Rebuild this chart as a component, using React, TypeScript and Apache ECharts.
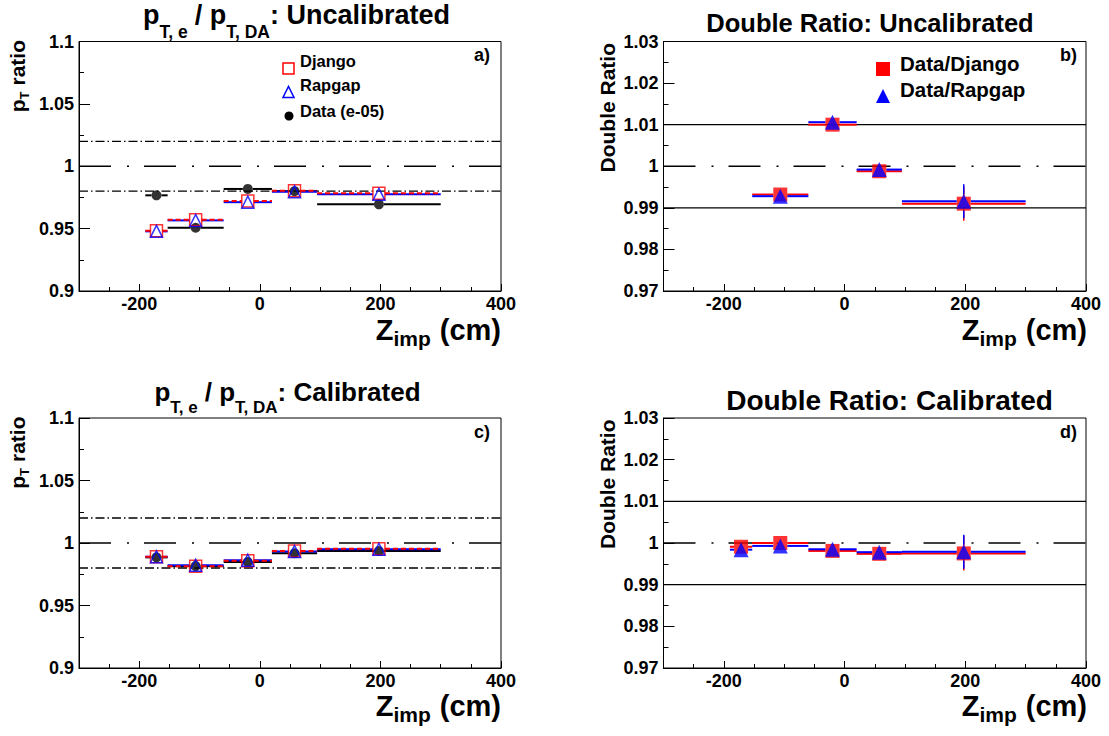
import React, { useEffect, useRef } from 'react';
import * as echarts from 'echarts';

const FONT = '"Liberation Sans", Arial, Helvetica, sans-serif';

// Z_imp bins (cm)
const zCenter = [-171.5, -106.5, -20, 57.5, 197.5];
const zLow = [-190, -153, -60, 20, 95];
const zHigh = [-153, -60, 20, 95, 300];

// a) pT,e / pT,DA : Uncalibrated
const djangoUncal = [0.9483, 0.9572, 0.9722, 0.9803, 0.9783];
const rapgapUncal = [0.9478, 0.9566, 0.9712, 0.9796, 0.9775];
const dataUncal = [0.9767, 0.9507, 0.9818, 0.98, 0.9695];

// c) pT,e / pT,DA : Calibrated
const djangoCal = [0.989, 0.9815, 0.9858, 0.9936, 0.9955];
const rapgapCal = [0.989, 0.9822, 0.9862, 0.9932, 0.995];
const dataCal = [0.9885, 0.9815, 0.9848, 0.9918, 0.9936];

// b) Double ratio : Uncalibrated
const dataDjangoUncal = [null, 0.9932, 1.01, 0.9988, 0.991];
const dataRapgapUncal = [null, 0.9928, 1.0106, 0.9992, 0.9916];
const ratioErrUncal = [0, 0.0004, 0.0004, 0.0004, 0.0041];

// d) Double ratio : Calibrated
const dataDjangoCal = [0.9991, 1.0, 0.9981, 0.9974, 0.9975];
const dataRapgapCal = [0.9984, 0.9993, 0.9985, 0.9978, 0.9979];
const ratioErrCal = [0.0004, 0.0004, 0.0004, 0.0004, 0.0041];

// axes
const zMin = -300;
const zMax = 400;
const zLabelStep = 200;
const pTAxis = { min: 0.9, max: 1.1, step: 0.05 };
const dAxis = { min: 0.97, max: 1.03, step: 0.01 };
const pTBands = [1.02, 0.98];
const dBands = [1.01, 0.99];
const unity = 1;

const RED = '#ff0000';
const BLUE = '#0000ff';

const panels = [
  { left: 79, top: 41.5, width: 422, height: 249.5, ax: pTAxis },
  { left: 663.5, top: 41.5, width: 422.5, height: 249.5, ax: dAxis },
  { left: 79, top: 418, width: 422, height: 250, ax: pTAxis },
  { left: 663.5, top: 418, width: 422.5, height: 250, ax: dAxis },
];

function errSeries(idx: number, vals: (number | null)[], errs: number[] | null, color: string, dash: number[] | null, gap: number, z: number) {
  const data: number[][] = [];
  vals.forEach((v, i) => {
    if (v == null) return;
    data.push([zCenter[i], v, zLow[i], zHigh[i], errs ? errs[i] : 0]);
  });
  return {
    type: 'custom',
    xAxisIndex: idx,
    yAxisIndex: idx,
    silent: true,
    z,
    data,
    encode: { x: 0, y: 1 },
    renderItem: (_params: any, api: any) => {
      const x = api.value(0), y = api.value(1), lo = api.value(2), hi = api.value(3), e = api.value(4);
      const c = api.coord([x, y]);
      const l = api.coord([lo, y]);
      const h = api.coord([hi, y]);
      const style: any = { stroke: color, lineWidth: 2, fill: 'none', lineDash: dash || undefined };
      const children: any[] = [];
      if (c[0] - gap > l[0]) children.push({ type: 'line', shape: { x1: l[0], y1: c[1], x2: c[0] - gap, y2: c[1] }, style });
      if (h[0] > c[0] + gap) children.push({ type: 'line', shape: { x1: c[0] + gap, y1: c[1], x2: h[0], y2: c[1] }, style });
      if (e > 0) {
        const t = api.coord([x, y + e]);
        const b = api.coord([x, y - e]);
        const vs = { stroke: color, lineWidth: 1.5, fill: 'none' };
        if (c[1] - gap > t[1]) children.push({ type: 'line', shape: { x1: c[0], y1: t[1], x2: c[0], y2: c[1] - gap }, style: vs });
        if (b[1] > c[1] + gap) children.push({ type: 'line', shape: { x1: c[0], y1: c[1] + gap, x2: c[0], y2: b[1] }, style: vs });
      }
      return { type: 'group', children };
    },
  };
}

function markerSeries(idx: number, vals: (number | null)[], symbol: string, size: number, itemStyle: any, z: number) {
  const data: number[][] = [];
  vals.forEach((v, i) => {
    if (v != null) data.push([zCenter[i], v]);
  });
  return { type: 'scatter', xAxisIndex: idx, yAxisIndex: idx, symbol, symbolSize: size, itemStyle, z, silent: true, data };
}

function hLine(idx: number, v: number, type: any, width: number) {
  return {
    type: 'line',
    xAxisIndex: idx,
    yAxisIndex: idx,
    data: [[zMin, v], [zMax, v]],
    symbol: 'none',
    silent: true,
    z: 1,
    lineStyle: { color: '#000', width, type },
  };
}

const labelStyle = { color: '#000', fontSize: 18, fontWeight: 'bold', fontFamily: FONT };

function buildOption() {
  const grid: any[] = [];
  const xAxis: any[] = [];
  const yAxis: any[] = [];
  panels.forEach((p, i) => {
    grid.push({ left: p.left, top: p.top, width: p.width, height: p.height, show: true, borderColor: '#000', borderWidth: 1, backgroundColor: 'transparent', containLabel: false, outerBoundsMode: 'none' });
    xAxis.push({
      gridIndex: i, type: 'value', min: zMin, max: zMax, interval: 50,
      axisLine: { show: true, onZero: false, lineStyle: { color: '#000', width: 1 } },
      axisTick: { show: true, inside: true, length: 4, lineStyle: { color: '#000', width: 1 } },
      axisLabel: { ...labelStyle, margin: 4, formatter: (v: number) => (v % zLabelStep === 0 ? String(v) : '') },
      splitLine: { show: false },
    });
    yAxis.push({
      gridIndex: i, type: 'value', min: p.ax.min, max: p.ax.max, interval: p.ax.step,
      axisLine: { show: true, onZero: false, lineStyle: { color: '#000', width: 1 } },
      axisTick: { show: true, inside: true, length: 11, lineStyle: { color: '#000', width: 1 } },
      minorTick: { show: true, splitNumber: 2, length: 5, lineStyle: { color: '#000', width: 1 } },
      axisLabel: { ...labelStyle, margin: 5 },
      splitLine: { show: false },
      minorSplitLine: { show: false },
    });
  });
  // auxiliary grids for the long major ticks every 200 cm
  panels.forEach((p, i) => {
    const pxPer = p.width / (zMax - zMin);
    grid.push({ left: p.left + pxPer * (-zLabelStep - zMin), top: p.top, width: pxPer * (zMax + zLabelStep), height: p.height, show: false, containLabel: false, outerBoundsMode: 'none' });
    xAxis.push({
      gridIndex: 4 + i, type: 'value', min: -zLabelStep, max: zMax, interval: zLabelStep,
      axisLine: { show: false, onZero: false },
      axisTick: { show: true, inside: true, length: 7, lineStyle: { color: '#000', width: 1 } },
      axisLabel: { show: false },
      splitLine: { show: false },
    });
    yAxis.push({ gridIndex: 4 + i, type: 'value', min: 0, max: 1, show: false, splitLine: { show: false } });
  });

  const series: any[] = [];
  const bandDash = [9, 3, 1.5, 3];
  const unityDash = [32, 16, 2, 15];
  // a & c
  [0, 2].forEach((idx) => {
    pTBands.forEach((b) => series.push(hLine(idx, b, bandDash, 1.3)));
    series.push(hLine(idx, unity, unityDash, 1.5));
    const dj = idx === 0 ? djangoUncal : djangoCal;
    const rg = idx === 0 ? rapgapUncal : rapgapCal;
    const dt = idx === 0 ? dataUncal : dataCal;
    series.push(errSeries(idx, dt, null, '#000', null, 5, 2));
    series.push(errSeries(idx, rg, null, BLUE, null, 6, 3));
    series.push(errSeries(idx, dj, null, RED, [5, 3], 6, 4));
    series.push(markerSeries(idx, dt, 'circle', 10, { color: '#000' }, 5));
    series.push(markerSeries(idx, dj, 'rect', 12, { color: 'rgba(0,0,0,0)', borderColor: RED, borderWidth: 1.5 }, 6));
    series.push(markerSeries(idx, rg, 'triangle', 12, { color: 'rgba(0,0,0,0)', borderColor: BLUE, borderWidth: 1.5 }, 7));
  });
  // b & d
  [1, 3].forEach((idx) => {
    dBands.forEach((b) => series.push(hLine(idx, b, 'solid', 1.3)));
    series.push(hLine(idx, unity, unityDash, 1.5));
    const dj = idx === 1 ? dataDjangoUncal : dataDjangoCal;
    const rg = idx === 1 ? dataRapgapUncal : dataRapgapCal;
    const er = idx === 1 ? ratioErrUncal : ratioErrCal;
    series.push(errSeries(idx, dj, er, RED, null, 7, 3));
    series.push(errSeries(idx, rg, er, BLUE, null, 7, 4));
    series.push(markerSeries(idx, dj, 'rect', 14, { color: RED }, 6));
    series.push(markerSeries(idx, rg, 'triangle', 15, { color: BLUE }, 7));
  });

  const mkTitleRich = (fm: number, fs: number, pad: number, gapL: number) => ({
    m: { fontSize: fm, fontWeight: 'bold', fontFamily: FONT, lineHeight: fm + 1, verticalAlign: 'top', color: '#000' },
    g: { fontSize: fm, fontWeight: 'bold', fontFamily: FONT, lineHeight: fm + 1, verticalAlign: 'top', color: '#000', padding: [0, 0, 0, gapL] },
    s: { fontSize: fs, fontWeight: 'bold', fontFamily: FONT, lineHeight: fs, verticalAlign: 'top', color: '#000', padding: [pad, 0, 0, 0] },
  });
  const titleRichA = mkTitleRich(27, 17.5, 21, 7);
  const titleRichC = mkTitleRich(26, 17, 20.5, 7);
  const xTitleRich = mkTitleRich(29, 21, 12.7, 9);
  const yTitleRich = mkTitleRich(21, 13, 11, 6);

  const txt = (x: number, y: number, text: string, size: number, align = 'left', va = 'middle') => ({
    type: 'text', x, y, silent: true,
    style: { text, fill: '#000', font: `bold ${size}px ${FONT}`, align, verticalAlign: va },
  });
  const richTxt = (x: number, y: number, text: string, rich: any, align: string, rotation = 0) => ({
    type: 'text', x, y, rotation, silent: true,
    style: { text, rich, align, verticalAlign: 'top', fill: '#000' },
  });

  const dy = 376.5;
  const graphic: any[] = [
    // titles
    richTxt(296.5, 1.5, '{m|p}{s|T, e}{g|/ p}{s|T, DA}{m|: Uncalibrated}', titleRichA, 'center'),
    richTxt(287.5, 2 + dy, '{m|p}{s|T, e}{g|/ p}{s|T, DA}{m|: Calibrated}', titleRichC, 'center'),
    txt(870, 23, 'Double Ratio: Uncalibrated', 25.5, 'center'),
    txt(889.5, 24 + dy, 'Double Ratio: Calibrated', 28, 'center'),
    // y titles
    richTxt(6.7, 40, '{m|p}{s|T}{g|ratio}', yTitleRich, 'right', Math.PI / 2),
    richTxt(6.7, 40 + dy, '{m|p}{s|T}{g|ratio}', yTitleRich, 'right', Math.PI / 2),
    { type: 'text', x: 596.7, y: 43, rotation: Math.PI / 2, silent: true, style: { text: 'Double Ratio', fill: '#000', font: `bold 21px ${FONT}`, align: 'right', verticalAlign: 'top', lineHeight: 22 } },
    { type: 'text', x: 596.7, y: 43 + dy, rotation: Math.PI / 2, silent: true, style: { text: 'Double Ratio', fill: '#000', font: `bold 21px ${FONT}`, align: 'right', verticalAlign: 'top', lineHeight: 22 } },
    // x titles
    richTxt(501, 315, '{m|Z}{s|imp}{g|(cm)}', xTitleRich, 'right'),
    richTxt(1087, 315, '{m|Z}{s|imp}{g|(cm)}', xTitleRich, 'right'),
    richTxt(501, 315 + dy, '{m|Z}{s|imp}{g|(cm)}', xTitleRich, 'right'),
    richTxt(1087, 315 + dy, '{m|Z}{s|imp}{g|(cm)}', xTitleRich, 'right'),
    // panel labels
    txt(490, 55, 'a)', 18, 'right'),
    txt(1077, 55, 'b)', 18, 'right'),
    txt(490, 55 + dy, 'c)', 18, 'right'),
    txt(1077, 55 + dy, 'd)', 18, 'right'),
    // legend a
    { type: 'rect', silent: true, shape: { x: 283, y: 63, width: 11, height: 11 }, style: { fill: 'none', stroke: RED, lineWidth: 1.5 } },
    { type: 'polygon', silent: true, shape: { points: [[283, 97.5], [294, 97.5], [288.5, 86.5]] }, style: { fill: 'none', stroke: BLUE, lineWidth: 1.5 } },
    { type: 'circle', silent: true, shape: { cx: 289, cy: 116, r: 4.5 }, style: { fill: '#000' } },
    txt(300, 61.3, 'Django', 16.5),
    txt(300, 85, 'Rapgap', 16.5),
    txt(300, 110.5, 'Data (e-05)', 16.5),
    // legend b
    { type: 'rect', silent: true, shape: { x: 876, y: 62, width: 14, height: 14 }, style: { fill: RED } },
    { type: 'polygon', silent: true, shape: { points: [[876, 103], [890, 103], [883, 89]] }, style: { fill: BLUE } },
    txt(900, 63, 'Data/Django', 20.5),
    txt(900, 89, 'Data/Rapgap', 20.5),
  ];

  return { animation: false, backgroundColor: '#fff', grid, xAxis, yAxis, series, graphic };
}

export default function App() {
  const ref = useRef<HTMLDivElement>(null);
  useEffect(() => {
    if (!ref.current) return;
    const chart = echarts.init(ref.current, null, { renderer: 'svg' });
    chart.setOption(buildOption() as any);
    return () => chart.dispose();
  }, []);
  return <div ref={ref} style={{ position: 'absolute', left: 0, top: 0, width: 1109, height: 736, background: '#fff' }} />;
}
